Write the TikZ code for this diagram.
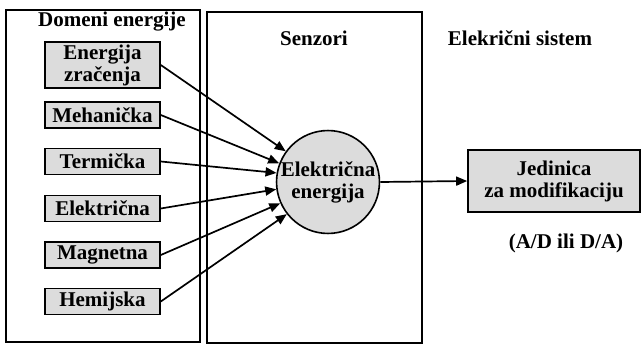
\documentclass[tikz,border=0pt]{standalone}
\usepackage{fontspec}
\setmainfont{Liberation Serif}
\usetikzlibrary{arrows.meta}
\definecolor{boxgray}{HTML}{DCDCDC}
\tikzset{
  lbl/.style={font=\bfseries\fontsize{21}{22}\selectfont, inner sep=0pt, align=center},
  panel/.style={draw, line width=1.6pt, inner sep=0pt},
  dombox/.style={lbl, draw, line width=1.6pt, fill=boxgray, minimum width=115pt},
  feed/.style={line width=1.7pt, -{Triangle[length=11pt,width=9pt]}}
}
\begin{document}
\begin{tikzpicture}[x=1pt,y=-1pt]
\useasboundingbox (0,0) rectangle (643,345);
% panels
\node[panel, minimum width=194pt, minimum height=332pt] (pdom) at (103,176) {};
\node[panel, minimum width=215pt, minimum height=331pt] (psen) at (314.5,177.5) {};
% titles
\node[lbl] (tdom) at (112,22) {Domeni energije};
\node[lbl] (tsen) at (314,38) {Senzori};
\node[lbl] (tsys) at (520,38) {Elekrični sistem};
% energy domains
\node[dombox, minimum height=46pt] (e1) at (102.5,65) {Energija\\zračenja};
\node[dombox, minimum height=26pt] (e2) at (102.5,115) {Mehanička};
\node[dombox, minimum height=26pt] (e3) at (102.5,161.5) {Termička};
\node[dombox, minimum height=26pt] (e4) at (102.5,208.5) {Električna};
\node[dombox, minimum height=26pt] (e5) at (102.5,255) {Magnetna};
\node[dombox, minimum height=26pt] (e6) at (102.5,301.5) {Hemijska};
% sensor
\node[lbl, draw, circle, line width=1.6pt, fill=boxgray, minimum size=102pt] (ee) at (328,182) {Električna\\energija};
% conversion unit
\node[lbl, draw, line width=1.6pt, fill=boxgray, minimum width=172pt, minimum height=62pt] (mod) at (554,181) {Jedinica\\za modifikaciju};
\node[lbl] (ad) at (566,243) {(A/D ili D/A)};
% connectors
\draw[feed] (e1.east) -- (ee.144);
\draw[feed] (e2.east) -- (ee.159);
\draw[feed] (e3.east) -- (ee.170);
\draw[feed] (e4.east) -- (ee.188);
\draw[feed] (e5.east) -- (ee.204);
\draw[feed] (e6.east) -- (ee.218);
\draw[feed] (ee.east) -- (mod.west);
\end{tikzpicture}
\end{document}
